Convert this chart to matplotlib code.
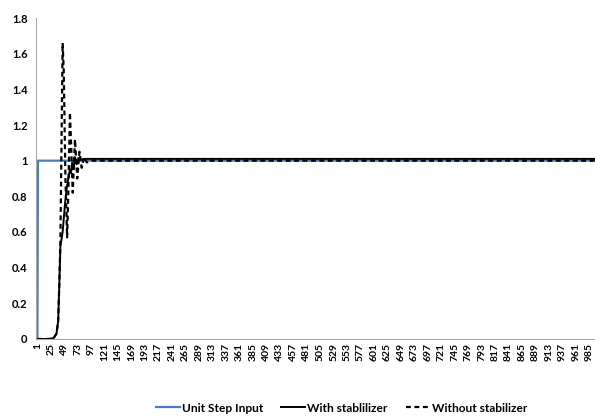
import matplotlib
matplotlib.use("Agg")
import matplotlib.pyplot as plt

plt.rcParams['font.family'] = ['Lato', 'DejaVu Sans']
plt.rcParams['font.weight'] = 'bold'

# sample index -> response value (transient part, then steady state)
step_x = [1, 2, 1000]
step_y = [0, 1, 1]

stab_x = [1, 22, 30, 35, 38, 40, 42, 44, 46, 50, 53, 56, 59, 61, 63, 66, 68, 71, 74, 78, 85, 1000]
stab_y = [0, 0, 0.005, 0.03, 0.1, 0.3, 0.52, 0.56, 0.6, 0.75, 0.84, 0.9, 0.95, 0.93, 0.99, 0.96,
          1.02, 0.98, 1.015, 1.005, 1.01, 1.01]

nostab_x = [1, 22, 30, 35, 38, 40, 42, 46, 48, 51, 54, 56, 59, 61, 64, 68, 72, 76, 80, 84, 89, 98, 1000]
nostab_y = [0, 0, 0.005, 0.03, 0.1, 0.3, 0.55, 1.66, 1.5, 0.9, 0.57, 0.8, 1.27, 1.1, 0.82, 1.12,
            0.9, 1.05, 0.96, 1.02, 0.99, 1.0, 1.0]

xticks = list(range(1, 1000, 24))
yticks = [0, 0.2, 0.4, 0.6, 0.8, 1, 1.2, 1.4, 1.6, 1.8]

fig = plt.figure(figsize=(5.95, 4.19), dpi=100)
ax = fig.add_axes([0.0605, 0.191, 0.9395, 0.766])

ax.plot(step_x, step_y, color='#4a7ebb', lw=1.6, label='Unit Step Input')
ax.plot(stab_x, stab_y, color='black', lw=1.4, label='With stablilizer')
ax.plot(nostab_x, nostab_y, color='black', lw=1.6, ls=(0, (2.2, 1.6)), label='Without stabilizer')

ax.set_xlim(-1.5, 995)
ax.set_ylim(0, 1.8)
ax.set_xticks(xticks)
ax.set_xticklabels([str(v) for v in xticks], rotation=90, fontsize=7.5, fontweight='bold')
ax.set_yticks(yticks)
ax.set_yticklabels([f'{v:g}' for v in yticks], fontsize=8, fontweight='bold')
ax.tick_params(axis='both', length=0, pad=6)
ax.tick_params(axis='x', pad=3)

for side in ['top', 'right']:
    ax.spines[side].set_visible(False)
ax.spines['left'].set_color('#a6a6a6')
ax.spines['bottom'].set_color('#a6a6a6')

fig.legend(loc='center', bbox_to_anchor=(0.574, 0.026), ncol=3, frameon=False,
           handlelength=2.0, columnspacing=1.5, handletextpad=0.2,
           prop={'weight': 'bold', 'size': 8.6})

fig.savefig('out.png', dpi=100)
